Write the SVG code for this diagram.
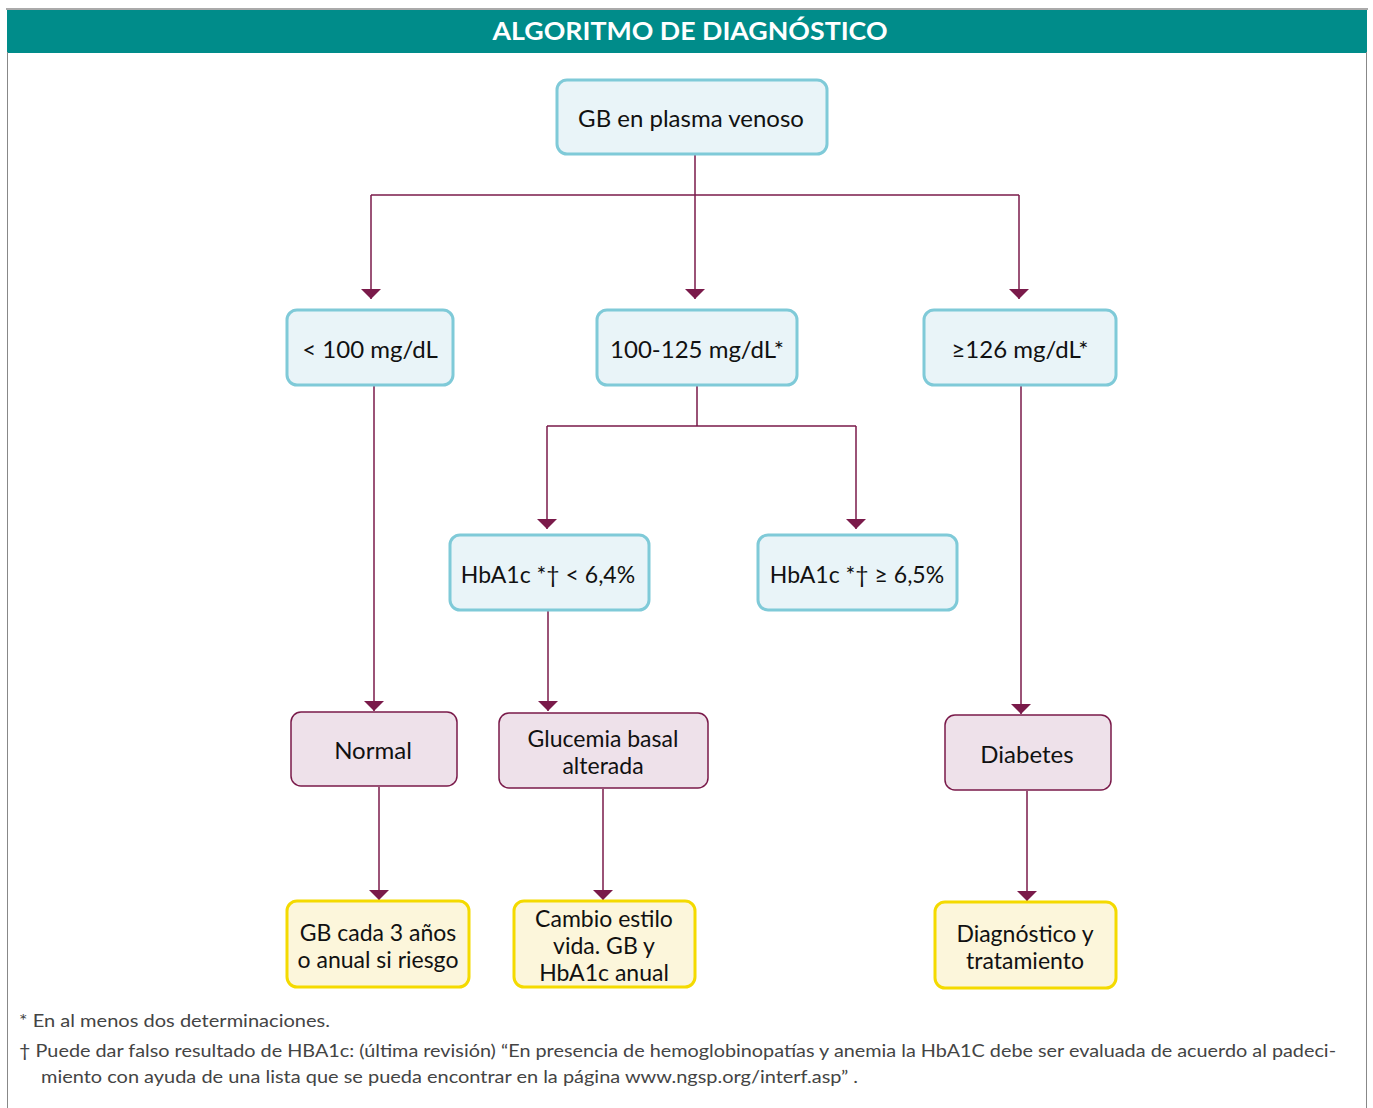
<svg xmlns="http://www.w3.org/2000/svg" width="1373" height="1108" viewBox="0 0 1373 1108">
<style>
.t{font-family:Lato,"Open Sans","Liberation Sans",sans-serif;font-size:24px;fill:#111;text-anchor:middle}
.s{font-size:23px}
.blue{fill:#E9F4F8;stroke:#7FCAD8;stroke-width:3}
.pink{fill:#EEE1EA;stroke:#7A1A4A;stroke-width:1.5}
.yel{fill:#FCF6DB;stroke:#F4DA00;stroke-width:3}
.c{fill:none;stroke:#7A1A4A;stroke-width:1.5}
.fn{font-family:Lato,"Open Sans","Liberation Sans",sans-serif;font-size:18px;fill:#444}
</style>
<defs>
<marker id="ah" viewBox="0 0 10 20" refX="10" refY="10" markerWidth="10" markerHeight="20" markerUnits="userSpaceOnUse" orient="auto">
<path d="M0,0 L10,10 L0,20 z" fill="#7A1A4A"/>
</marker>
</defs>
<rect x="0" y="0" width="1373" height="1108" fill="#fff"/>
<rect x="6" y="8" width="1362" height="2" fill="#AAAAAA"/>
<rect x="7" y="10" width="1360" height="43" fill="#008C8A"/>
<line x1="7.5" y1="52" x2="7.5" y2="1108" stroke="#888" stroke-width="1"/>
<line x1="1366.5" y1="52" x2="1366.5" y2="1108" stroke="#888" stroke-width="1"/>
<text x="690" y="40" font-family="Lato,'Open Sans','Liberation Sans',sans-serif" font-size="24" font-weight="bold" fill="#fff" text-anchor="middle" textLength="395" lengthAdjust="spacingAndGlyphs">ALGORITMO DE DIAGNÓSTICO</text>

<g id="connectors">
<path class="c" d="M695,155 V195"/>
<path class="c" d="M371,195 H1019"/>
<path class="c" d="M371,195 V299" marker-end="url(#ah)"/>
<path class="c" d="M695,195 V299" marker-end="url(#ah)"/>
<path class="c" d="M1019,195 V299" marker-end="url(#ah)"/>
<path class="c" d="M374,386 V711" marker-end="url(#ah)"/>
<path class="c" d="M697,386 V426 H547 M697,426 H856"/>
<path class="c" d="M547,426 V529" marker-end="url(#ah)"/>
<path class="c" d="M856,426 V529" marker-end="url(#ah)"/>
<path class="c" d="M548,611 V711" marker-end="url(#ah)"/>
<path class="c" d="M1021,386 V714" marker-end="url(#ah)"/>
<path class="c" d="M379,787 V900" marker-end="url(#ah)"/>
<path class="c" d="M603,789 V900" marker-end="url(#ah)"/>
<path class="c" d="M1027,791 V901" marker-end="url(#ah)"/>
</g>

<g id="n-gb"><rect class="blue" x="557" y="80" width="270" height="74" rx="10"/><text class="t" x="691" y="127">GB en plasma venoso</text></g>
<g id="n-lt100"><rect class="blue" x="287" y="310" width="166" height="75" rx="10"/><text class="t" x="370" y="358">&lt; 100 mg/dL</text></g>
<g id="n-100"><rect class="blue" x="597" y="310" width="200" height="75" rx="10"/><text class="t" x="697" y="358">100-125 mg/dL*</text></g>
<g id="n-126"><rect class="blue" x="924" y="310" width="192" height="75" rx="10"/><text class="t" x="1020" y="358">≥126 mg/dL*</text></g>
<g id="n-h64"><rect class="blue" x="450" y="535" width="199" height="75" rx="10"/><text class="t s" x="548" y="583">HbA1c *† &lt; 6,4%</text></g>
<g id="n-h65"><rect class="blue" x="758" y="535" width="199" height="75" rx="10"/><text class="t s" x="857" y="583">HbA1c *† ≥ 6,5%</text></g>
<g id="n-normal"><rect class="pink" x="291" y="712" width="166" height="74" rx="10"/><text class="t" x="373" y="759">Normal</text></g>
<g id="n-gba"><rect class="pink" x="499" y="713" width="209" height="75" rx="10"/><text class="t s" x="603" y="747">Glucemia basal</text><text class="t s" x="603" y="774">alterada</text></g>
<g id="n-diab"><rect class="pink" x="945" y="715" width="166" height="75" rx="10"/><text class="t" x="1027" y="763">Diabetes</text></g>
<g id="n-gb3"><rect class="yel" x="287" y="901" width="182" height="86" rx="10"/><text class="t s" x="378" y="941">GB cada 3 años</text><text class="t s" x="378" y="968">o anual si riesgo</text></g>
<g id="n-cambio"><rect class="yel" x="514" y="901" width="181" height="86" rx="10"/><text class="t s" x="604" y="927">Cambio estilo</text><text class="t s" x="604" y="954">vida. GB y</text><text class="t s" x="604" y="981">HbA1c anual</text></g>
<g id="n-dx"><rect class="yel" x="935" y="902" width="181" height="86" rx="10"/><text class="t s" x="1025" y="942">Diagnóstico y</text><text class="t s" x="1025" y="969">tratamiento</text></g>

<text class="fn" x="19" y="1027" textLength="311" lengthAdjust="spacingAndGlyphs">* En al menos dos determinaciones.</text>
<text class="fn" x="19" y="1057" textLength="1317" lengthAdjust="spacingAndGlyphs">† Puede dar falso resultado de HBA1c: (última revisión) “En presencia de hemoglobinopatías y anemia la HbA1C debe ser evaluada de acuerdo al padeci-</text>
<text class="fn" x="41" y="1083" textLength="817" lengthAdjust="spacingAndGlyphs">miento con ayuda de una lista que se pueda encontrar en la página www.ngsp.org/interf.asp” .</text>
</svg>
